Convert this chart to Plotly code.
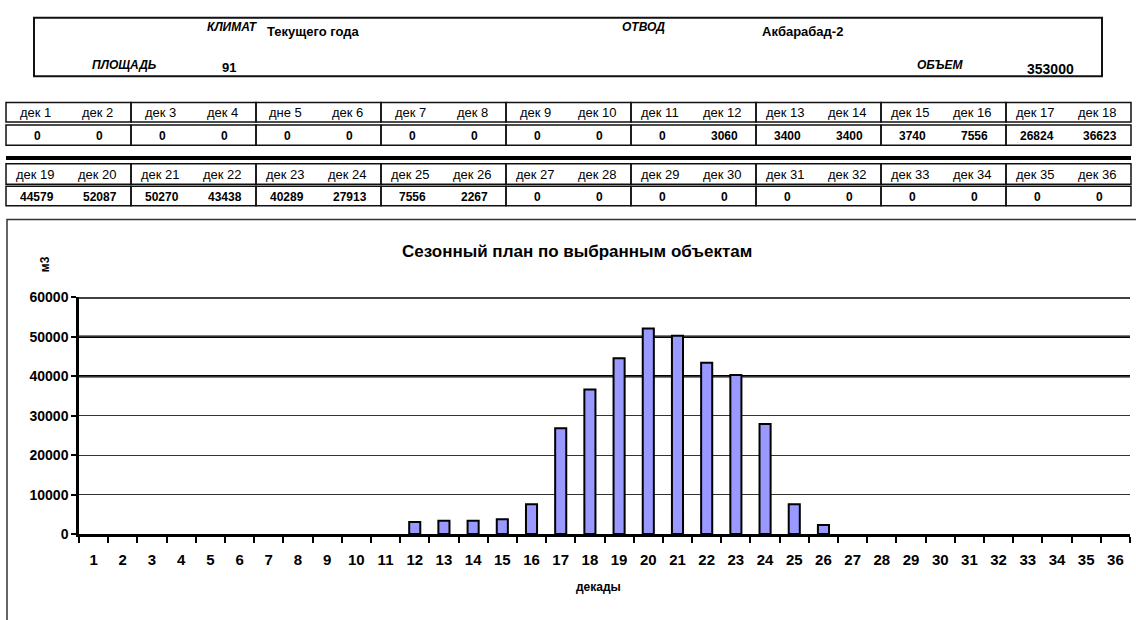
import plotly.graph_objects as go

# ---------------- data ----------------
decades = [str(i) for i in range(1, 37)]
header_labels = ["дек 1", "дек 2", "дек 3", "дек 4", "дне 5", "дек 6", "дек 7", "дек 8", "дек 9",
                 "дек 10", "дек 11", "дек 12", "дек 13", "дек 14", "дек 15", "дек 16", "дек 17", "дек 18",
                 "дек 19", "дек 20", "дек 21", "дек 22", "дек 23", "дек 24", "дек 25", "дек 26", "дек 27",
                 "дек 28", "дек 29", "дек 30", "дек 31", "дек 32", "дек 33", "дек 34", "дек 35", "дек 36"]
volumes = [0, 0, 0, 0, 0, 0, 0, 0, 0, 0, 0, 3060, 3400, 3400, 3740, 7556, 26824, 36623,
           44579, 52087, 50270, 43438, 40289, 27913, 7556, 2267, 0, 0, 0, 0, 0, 0, 0, 0, 0, 0]
info_labels = ["КЛИМАТ", "ОТВОД", "ПЛОЩАДЬ", "ОБЪЕМ"]
info_values = ["Текущего года", "Акбарабад-2", "91", "353000"]
chart_title = "Сезонный план по выбранным объектам"
y_title = "м3"
x_title = "декады"
y_ticks = [0, 10000, 20000, 30000, 40000, 50000, 60000]
bold_grid = [40000, 50000, 60000]

W, H = 1136, 620
FONT = "Liberation Sans, Arial, sans-serif"


def px(x):
    return x / W


def py(y):
    return 1 - y / H


shapes = []
annotations = []


def rect(x0, y0, x1, y1, width=1.5, color="#111"):
    shapes.append(dict(type="rect", xref="paper", yref="paper",
                       x0=px(x0), x1=px(x1), y0=py(y1), y1=py(y0),
                       line=dict(color=color, width=width), fillcolor="rgba(0,0,0,0)"))


def text(x, y, s, size=12, anchor="left", color="#000", angle=0):
    annotations.append(dict(xref="paper", yref="paper", x=px(x), y=py(y), text=s,
                            showarrow=False, xanchor=anchor, yanchor="middle",
                            textangle=angle,
                            font=dict(family=FONT, size=size, color=color)))


# ---------------- top info box ----------------
rect(34, 10, 1102, 70, width=2)
info_pos = [((205, 19), (265, 24)), ((620, 19), (760, 24)),
            ((90, 59), (220, 61)), ((915, 59), (1025, 63))]
info_sizes = [13, 13, 13, 14]
for lab, val, (lp, vp), vs in zip(info_labels, info_values, info_pos, info_sizes):
    text(lp[0], lp[1], "<b><i>" + lab + "</i></b>", size=12)
    text(vp[0], vp[1], "<b>" + val + "</b>", size=vs)

# ---------------- decade tables ----------------
left, right = 6, 1131
ncol = 18
cw = (right - left) / ncol
rows = [(97, 117, 120, 141), (160, 181, 183, 203)]
for r, (h0, h1, v0, v1) in enumerate(rows):
    for g in range(ncol // 2):
        gx0 = left + g * 2 * cw
        gx1 = gx0 + 2 * cw
        rect(gx0, h0, gx1, h1)
        rect(gx0, v0, gx1, v1)
    for c in range(ncol):
        idx = r * ncol + c
        cx = left + (c + 0.5) * cw - 2
        text(cx, (h0 + h1) / 2 + 0.5, header_labels[idx], size=13, anchor="center")
        text(cx + 2, (v0 + v1) / 2 + 0.5, "<b>" + str(volumes[idx]) + "</b>", size=12, anchor="center")

# thick separator bar
shapes.append(dict(type="rect", xref="paper", yref="paper", x0=px(6), x1=px(1131),
                   y0=py(156), y1=py(152), line=dict(width=0), fillcolor="#000"))

# ---------------- chart area ----------------
rect(7, 217, 1145, 630, width=1.5, color="#333")
text(577, 250, "<b>" + chart_title + "</b>", size=17, anchor="center")
text(45, 263, "<b>" + y_title + "</b>", size=12, anchor="center", angle=-90)
text(598, 594, "<b>" + x_title + "</b>", size=12, anchor="center")

plot_x0, plot_x1 = 79, 1130
plot_y_top, plot_y_bot = 297, 540

for v in bold_grid:
    shapes.append(dict(type="line", xref="paper", yref="y", x0=px(plot_x0), x1=px(plot_x1),
                       y0=v, y1=v, line=dict(color="#000", width=2.6), layer="below"))

outline_w = [2 if v > 0 else 0 for v in volumes]

fig = go.Figure(go.Bar(
    x=decades, y=volumes,
    marker=dict(color="#9999FF", line=dict(color="#000", width=outline_w)),
    width=0.38,
))

fig.update_layout(
    width=W, height=H,
    margin=dict(l=0, r=0, t=0, b=0),
    paper_bgcolor="white", plot_bgcolor="white",
    showlegend=False,
    shapes=shapes, annotations=annotations,
    font=dict(family=FONT, color="#000"),
    xaxis=dict(
        domain=[px(plot_x0), px(plot_x1)], type="category", range=[-0.5, 35.5],
        showline=True, linecolor="#000", linewidth=3,
        ticks="outside", tickson="boundaries", ticklen=6, tickwidth=2, tickcolor="#000",
        tickfont=dict(family=FONT, size=15, color="#000", weight="bold"),
        ticklabelstandoff=10,
        showgrid=False, fixedrange=True,
    ),
    yaxis=dict(
        domain=[py(plot_y_bot), py(plot_y_top)], range=[0, 60000],
        tickvals=y_ticks, tickformat="d",
        showline=True, linecolor="#000", linewidth=2.5,
        ticks="outside", ticklen=5, tickwidth=2, tickcolor="#000",
        tickfont=dict(family=FONT, size=14, color="#000", weight="bold"),
        showgrid=True, gridcolor="#333", gridwidth=1.2, zeroline=False, fixedrange=True,
    ),
)

fig.write_html("out.html", post_script="document.body.style.margin='0';",
               config={"displayModeBar": False})
